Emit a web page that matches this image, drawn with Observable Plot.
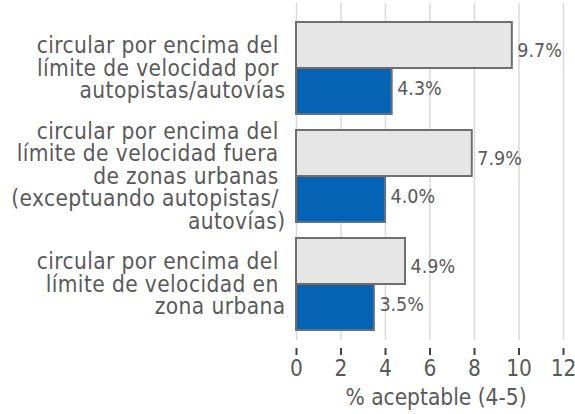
<!DOCTYPE html>
<html><head><meta charset="utf-8">
<script src="https://cdn.jsdelivr.net/npm/d3@7"></script>
<script src="https://cdn.jsdelivr.net/npm/@observablehq/plot@0.6"></script>
<style>
body{margin:0;background:#fff;}
svg text{white-space:pre;}
.catlabel text{letter-spacing:0.4px;}
</style></head><body><div id="chart"></div>
<script>
const categories = [
  "circular por encima del \nlímite de velocidad por \nautopistas/autovías",
  "circular por encima del \nlímite de velocidad fuera \nde zonas urbanas \n(exceptuando autopistas/ \nautovías)",
  "circular por encima del \nlímite de velocidad en \nzona urbana"
];
const seriesGray = [9.7, 7.9, 4.9];
const seriesBlue = [4.3, 4.0, 3.5];
const xTicks = [0, 2, 4, 6, 8, 10, 12];
const xLabel = "% aceptable (4-5)";

const rows = categories.map((c, i) => ({cat: c, gray: seriesGray[i], blue: seriesBlue[i]}));
const font = "'DejaVu Sans Condensed', 'DejaVu Sans', sans-serif";
const txt = "#595959";

const chart = Plot.plot({
  width: 575, height: 414,
  marginLeft: 296, marginRight: 12, marginTop: 3, marginBottom: 66,
  style: {fontFamily: font, color: txt, background: "#fff"},
  x: {domain: [0, 12], axis: null},
  y: {domain: categories, paddingInner: 0.15, paddingOuter: 0.165, axis: null},
  marks: [
    Plot.ruleX(xTicks, {stroke: "#d9d9d9", strokeWidth: 1.5, insetBottom: 8}),
    Plot.barX(rows, {y: "cat", x: "gray", fill: "#e6e6e6", stroke: "#6e6e6e", strokeWidth: 2, insetBottom: 46}),
    Plot.barX(rows, {y: "cat", x: "blue", fill: "#0563b6", stroke: "#6e6e6e", strokeWidth: 2, insetTop: 46}),
    Plot.text(rows, {y: "cat", x: "gray", text: d => d.gray.toFixed(1) + "%", dx: 5, dy: -18, textAnchor: "start", fontSize: 19.5, fill: txt}),
    Plot.text(rows, {y: "cat", x: "blue", text: d => d.blue.toFixed(1) + "%", dx: 5, dy: 20.5, textAnchor: "start", fontSize: 19.5, fill: txt}),
    Plot.text(categories, {y: d => d, frameAnchor: "left", dx: -11, textAnchor: "end", fontSize: 22.5, lineHeight: 1.0, fill: txt, className: "catlabel"}),
    Plot.axisX({ticks: xTicks, tickSize: 7, tickPadding: 5, fontSize: 22.5, stroke: "#404040", strokeWidth: 2, fill: txt, label: null, tickFormat: d => String(d)}),
    Plot.text([xLabel], {frameAnchor: "bottom", lineAnchor: "middle", dy: 49, dx: 6, fontSize: 22.5, fill: txt})
  ]
});
document.getElementById("chart").appendChild(chart);
</script>
</body></html>
